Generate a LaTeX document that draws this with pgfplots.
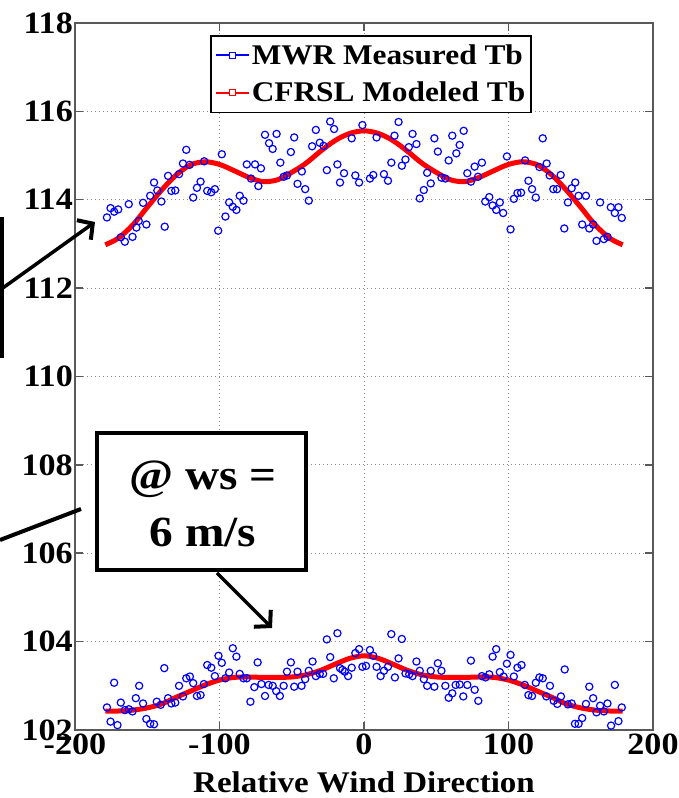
\documentclass[border=0pt]{standalone}
\usepackage{pgfplots}
\pgfplotsset{compat=1.18}
\usepackage{fontspec}
\setmainfont{Liberation Serif}[FakeStretch=1.1]
\usetikzlibrary{arrows.meta}

\newcommand{\tickfont}{\fontsize{31}{32}\selectfont\bfseries}
\newcommand{\labfont}{\fontsize{30}{32}\selectfont\bfseries}
\newcommand{\legfont}{\fontsize{28.5}{30}\selectfont\bfseries}

\begin{document}
\begin{tikzpicture}[x=1pt,y=1pt]
\useasboundingbox (-75,-68) rectangle (604,730);
\begin{axis}[
  at={(0,0)}, anchor=south west,
  scale only axis, width=578pt, height=707pt,
  xmin=-200, xmax=200, ymin=102, ymax=118,
  xtick={-200,-100,0,100,200}, xticklabels={-200,-100,0,100,200},
  ytick={102,104,...,118}, yticklabels={102,104,106,108,110,112,114,116,118},
  tick align=inside, major tick length=8pt,
  axis line style={black!65, line width=1.5pt},
  tick style={black!65, line width=1.5pt},
  grid=major,
  grid style={black!45, line width=0.9pt, dash pattern=on 1pt off 3pt},
  ticklabel style={font=\tickfont},
  yticklabel style={inner sep=2pt},
  xticklabel style={inner sep=4pt},
  xlabel={Relative Wind Direction},
  xlabel style={font=\labfont, inner sep=0pt, yshift=-12pt},
  legend style={at={(0.2336,0.983)}, anchor=north west, draw=black,
    line width=1.5pt, fill=white, font=\legfont,
    inner xsep=4pt, inner ysep=7pt, row sep=12pt},
  legend cell align=left,
]
% measured brightness temperature, upper set
\addplot[only marks, mark=o, mark size=3.6pt, blue, mark options={line width=1.2pt},
  legend image code/.code={
    \draw[blue, line width=2pt] (0pt,0pt) -- (33pt,0pt);
    \draw[blue, line width=0.8pt, fill=white] (13.5pt,-3pt) rectangle (19.5pt,3pt);}]
coordinates {
(-177.9,113.60) (-175.4,113.81) (-172.9,113.73) (-170.1,113.78) (-168.3,113.15)
(-165.5,113.05) (-162.8,113.90) (-160.2,113.16) (-157.5,113.37) (-155.9,113.52)
(-152.9,113.93) (-150.6,113.44) (-148.0,114.09) (-145.3,114.39) (-143.0,114.21)
(-140.2,113.96) (-137.9,113.39) (-135.6,114.54) (-133.3,114.20) (-130.6,114.21)
(-128.0,114.58) (-125.3,114.82) (-123.0,115.13) (-120.7,114.79) (-118.2,114.05)
(-115.6,114.27) (-113.1,114.41) (-110.6,114.87) (-108.5,114.20) (-105.7,114.17)
(-103.2,114.24) (-100.9,113.30) (-98.4,115.03) (-95.9,113.62) (-93.3,113.94)
(-90.8,113.84) (-88.3,113.77) (-86.0,114.09) (-83.4,113.98) (-81.1,114.80)
(-78.2,114.48) (-75.4,114.80) (-73.1,114.31) (-71.3,114.71) (-68.5,115.47)
(-65.7,115.28) (-63.2,115.15) (-60.5,115.49) (-57.9,114.84) (-55.6,114.52)
(-53.3,114.55) (-50.6,115.08) (-48.3,115.41) (-46.0,114.36) (-43.0,114.64)
(-40.7,114.24) (-38.2,113.98) (-35.9,115.21) (-33.3,115.58) (-30.6,115.29)
(-28.0,115.22) (-25.7,114.67) (-23.4,115.77) (-20.7,115.60) (-18.4,114.80)
(-16.6,114.39) (-13.8,114.60) (-8.5,115.39) (-6.0,114.55) (-3.4,114.39)
(-1.1,115.69) (4.1,114.48) (6.4,114.56) (8.7,115.41) (13.8,114.58)
(16.6,114.43) (18.9,114.84) (21.1,115.45) (23.9,115.76) (26.2,114.77)
(28.7,114.91) (31.0,115.19) (33.6,115.49) (36.3,115.26) (38.6,114.03)
(41.4,114.22) (43.7,114.61) (46.2,114.37) (48.7,115.39) (51.1,115.09)
(53.6,114.50) (56.3,114.48) (58.6,114.89) (61.1,115.45) (63.9,115.05)
(66.2,115.24) (69.0,115.56) (71.5,114.60) (74.0,114.41) (76.6,114.75)
(78.9,114.52) (81.6,114.84) (83.9,113.96) (86.7,114.06) (89.0,113.87)
(91.5,113.77) (94.0,113.94) (96.3,113.70) (98.9,114.98) (101.4,113.33)
(103.7,114.02) (106.2,114.15) (108.7,114.16) (111.5,114.89) (113.8,114.43)
(116.3,114.24) (118.9,114.05) (121.4,114.74) (123.7,115.39) (126.4,114.82)
(128.5,114.55) (131.0,114.24) (133.6,114.24) (136.1,114.56) (138.6,113.35)
(141.1,113.94) (143.7,114.26) (146.2,114.39) (148.5,114.09) (151.0,113.44)
(153.6,114.09) (155.9,113.35) (158.6,113.44) (160.9,113.07) (163.4,113.94)
(166.0,113.11) (168.5,113.16) (170.8,113.83) (173.6,113.70) (176.1,113.83)
(178.4,113.59)
};
\addlegendentry{MWR Measured Tb}
% modeled brightness temperature, upper set
\addplot[red, line width=5pt, smooth,
  legend image code/.code={
    \draw[red, line width=2pt] (0pt,0pt) -- (33pt,0pt);
    \draw[red, line width=0.8pt, fill=white] (13.5pt,-3pt) rectangle (19.5pt,3pt);}]
coordinates {
(-179,112.98) (-170,113.13) (-160,113.43) (-150,113.83) (-140,114.22)
(-130,114.56) (-120,114.79) (-110,114.86) (-100,114.80) (-90,114.66)
(-80,114.51) (-70,114.41) (-60,114.45) (-50,114.62) (-40,114.83)
(-30,115.10) (-20,115.34) (-10,115.50) (0,115.56) (10,115.50)
(20,115.34) (30,115.10) (40,114.83) (50,114.62) (60,114.45)
(70,114.41) (80,114.51) (90,114.66) (100,114.80) (110,114.86)
(120,114.79) (130,114.56) (140,114.22) (150,113.83) (160,113.43)
(170,113.13) (179,112.98)
};
\addlegendentry{CFRSL Modeled Tb}
% measured brightness temperature, lower set
\addplot[only marks, mark=o, mark size=3.6pt, blue, mark options={line width=1.2pt}, forget plot]
coordinates {
(-177.9,102.51) (-175.4,102.19) (-172.9,103.07) (-170.6,102.11) (-168.3,102.62)
(-165.5,102.45) (-162.8,102.47) (-160.2,102.42) (-157.9,102.72) (-155.6,103.00)
(-152.9,102.60) (-150.6,102.25) (-148.0,102.14) (-145.3,102.13) (-143.4,102.64)
(-140.7,102.57) (-138.2,103.40) (-135.6,102.72) (-133.3,102.60) (-130.6,102.62)
(-128.0,103.00) (-125.3,102.76) (-123.0,103.17) (-120.5,103.21) (-118.2,103.06)
(-115.6,102.77) (-113.1,102.79) (-110.8,103.04) (-108.5,103.47) (-105.7,103.41)
(-103.2,103.22) (-100.7,103.68) (-98.4,103.52) (-95.9,103.17) (-93.3,103.30)
(-90.8,103.85) (-88.3,103.66) (-86.0,103.27) (-83.4,103.17) (-81.1,103.17)
(-78.6,102.64) (-75.9,102.97) (-73.6,103.53) (-71.0,103.04) (-68.5,102.77)
(-66.0,103.02) (-63.2,103.00) (-60.7,102.88) (-58.2,102.77) (-55.6,103.00)
(-53.3,103.32) (-50.6,103.53) (-48.3,102.98) (-46.0,103.32) (-43.2,103.00)
(-40.7,103.15) (-38.2,103.34) (-35.6,103.55) (-33.3,103.22) (-30.6,103.27)
(-28.3,103.27) (-25.7,104.05) (-23.4,103.65) (-20.9,103.17) (-18.4,104.19)
(-16.6,103.40) (-14.9,103.36) (-13.3,103.32) (-11.0,103.22) (-8.5,103.41)
(-6.0,103.74) (-3.4,103.83) (-1.1,103.43) (1.4,103.45) (4.1,103.81)
(6.4,103.68) (8.7,103.43) (11.5,103.22) (13.8,103.34) (16.6,103.43)
(18.9,104.17) (21.4,103.19) (23.9,103.62) (26.2,104.06) (28.7,103.28)
(31.3,103.26) (33.6,103.22) (36.3,103.55) (38.6,103.34) (41.4,103.15)
(43.7,103.00) (46.2,103.34) (48.7,102.98) (51.1,103.51) (53.6,103.34)
(56.3,103.00) (58.6,102.73) (61.1,102.83) (63.4,103.02) (66.2,103.03)
(68.7,102.76) (71.5,103.02) (74.0,103.57) (76.6,102.91) (79.1,102.66)
(81.6,103.22) (84.1,103.19) (86.7,103.26) (89.0,103.66) (91.5,103.83)
(94.0,103.31) (96.6,103.21) (98.9,103.50) (101.4,103.70) (103.7,103.21)
(106.2,103.41) (109.0,103.47) (111.3,103.02) (113.8,102.79) (116.3,102.77)
(118.9,103.07) (121.4,103.19) (123.7,103.17) (126.2,102.76) (128.7,103.00)
(131.3,102.66) (133.8,102.59) (136.3,102.76) (138.9,103.37) (141.1,102.58)
(143.7,102.60) (146.0,102.14) (148.5,102.14) (151.0,102.27) (153.6,102.59)
(155.9,102.98) (158.6,102.72) (160.9,102.40) (163.4,102.55) (166.0,102.42)
(168.5,102.60) (171.0,102.10) (173.6,103.02) (176.1,102.20) (178.4,102.51)
};
% modeled brightness temperature, lower set
\addplot[red, line width=5pt, smooth, forget plot]
coordinates {
(-179,102.43) (-170,102.43) (-160,102.45) (-150,102.50) (-140,102.59)
(-130,102.74) (-120,102.88) (-110,103.02) (-100,103.13) (-90,103.19)
(-80,103.20) (-70,103.19) (-60,103.19) (-50,103.20) (-40,103.25)
(-30,103.35) (-20,103.49) (-10,103.62) (0,103.68) (10,103.62)
(20,103.49) (30,103.35) (40,103.25) (50,103.20) (60,103.19)
(70,103.19) (80,103.20) (90,103.19) (100,103.13) (110,103.02)
(120,102.88) (130,102.74) (140,102.59) (150,102.50) (160,102.45)
(170,102.43) (179,102.43)
};
\end{axis}

% call-out annotations
\draw[line width=4pt] (-73,513) -- (-73,372);
\draw[line width=3.5pt, -{Straight Barb[length=11pt, width=24pt, line width=4pt]}] (-75,440) -- (20,508);
\draw[line width=4pt] (-75,190) -- (6,221);
\draw[line width=4pt, fill=white] (22,160) rectangle (231,297);
\node[font=\fontsize{43}{57}\selectfont\bfseries, align=center] at (128,226) {@ ws =\\6 m/s};
\draw[line width=3.5pt, -{Straight Barb[length=11pt, width=24pt, line width=4pt]}] (142,157) -- (197,102);
\end{tikzpicture}
\end{document}
